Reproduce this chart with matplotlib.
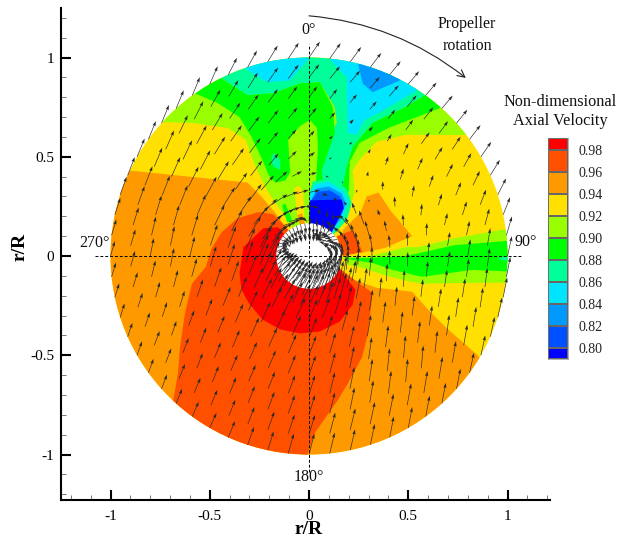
import numpy as np
import matplotlib
matplotlib.use("Agg")
import matplotlib.pyplot as plt
from matplotlib.patches import Polygon, Circle

plt.rcParams['font.family'] = ['Liberation Serif', 'DejaVu Serif']

# Contour levels and colours of the colour bar (lowest band first)
levels = [0.80, 0.82, 0.84, 0.86, 0.88, 0.90, 0.92, 0.94, 0.96, 0.98]
level_labels = ['0.80', '0.82', '0.84', '0.86', '0.88', '0.90', '0.92', '0.94', '0.96', '0.98']
band_colors = ['#0000FF', '#0050FF', '#0099FF', '#00E5FF', '#00FF99', '#00FF00',
               '#99FF00', '#FFE000', '#FF9900', '#FF5000', '#FF0000']
bar_range = (0.79, 0.991)

# Contour regions: outlines in r/R, painted in order; value = band the region belongs to
base_band = 0.93
orange_main = [(-0.90,0.43),(-0.31,0.37),(-0.24,0.30),(-0.18,0.23),(-0.12,0.15),(0,0),(0.16,-0.08),(0.23,-0.12),
               (0.34,-0.16),(0.52,-0.18),(0.60,-0.27),(0.69,-0.36),(0.77,-0.43),(0.86,-0.51),(1.2,-1.2),(-1.2,-1.2),(-1.2,0.43)]
orange_patch = [(0.29,0.30),(0.35,0.32),(0.41,0.23),(0.52,0.10),(0.38,0.04),(0.26,0.015),(0.17,0.10),(0.17,0.13),(0.26,0.22)]
redorange_patch = [(0.14,0.10),(0.22,0.13),(0.27,0.02),(0.17,0.0)]
redorange_main = [(-0.24,0.22),(-0.26,0.22),(-0.36,0.19),(-0.44,0.12),(-0.49,0.04),(-0.52,-0.055),(-0.59,-0.14),(-0.625,-0.29),
                  (-0.65,-0.46),(-0.66,-0.59),(-0.685,-0.735),(-0.8,-1.2),(-0.01,-1.2),(-0.005,-0.99),(0.03,-0.89),(0.146,-0.725),
                  (0.197,-0.64),(0.267,-0.51),(0.297,-0.39),(0.32,-0.185),(0.24,-0.13),(0.14,-0.05),(0,0),(-0.12,0.15),(-0.18,0.21)]
red_core = [(-0.35,-0.085),(-0.33,0.045),(-0.23,0.14),(-0.155,0.145),(-0.13,0.115),(0,0),(0.155,-0.07),(0.235,-0.17),(0.22,-0.245),
            (0.155,-0.33),(0.055,-0.38),(-0.045,-0.39),(-0.145,-0.37),(-0.235,-0.32),(-0.305,-0.235),(-0.34,-0.17)]
lime_top = [(-0.735,0.675),(-0.585,0.67),(-0.41,0.645),(-0.32,0.585),(-0.27,0.45),(-0.205,0.32),(-0.135,0.22),(-0.095,0.155),(0,0.08),
            (0.145,0.13),(0.195,0.22),(0.23,0.32),(0.22,0.43),(0.255,0.485),(0.34,0.575),(0.485,0.61),(0.795,0.61),(1.0,0.61),(1,1.2),(-1,1.2),(-0.9,0.675)]
lime_band = [(1.05,0.135),(0.99,0.135),(0.735,0.09),(0.55,0.045),(0.49,0.045),(0.29,-0.005),(0.17,-0.005),(0.195,-0.045),(0.255,-0.055),
             (0.375,-0.095),(0.49,-0.125),(0.57,-0.14),(0.82,-0.135),(1.05,-0.135)]
green_band = [(1.05,0.08),(0.735,0.055),(0.49,0.0),(0.29,-0.01),(0.19,-0.01),(0.215,-0.02),(0.32,-0.035),(0.42,-0.07),(0.57,-0.105),(0.82,-0.07),(1.05,-0.08)]
teal_tip = [(0.95,-0.015),(1.05,0.02),(1.05,-0.035)]
teal_top = [(-0.55,1.04),(-0.45,0.90),(-0.31,0.81),(-0.18,0.82),(-0.045,0.87),(0.055,0.875),(0.13,0.75),(0.14,0.675),(0.08,0.535),(0.055,0.38),
            (0.07,0.33),(0.18,0.33),(0.19,0.45),(0.22,0.55),(0.32,0.67),(0.485,0.75),(0.585,0.81),(0.7,0.9),(0.6,1.2),(-0.6,1.2)]
green_left = [(-0.575,0.82),(-0.46,0.77),(-0.35,0.70),(-0.29,0.60),(-0.235,0.485),(-0.205,0.41),(-0.17,0.37),(-0.12,0.38),(-0.095,0.42),(-0.105,0.585),
              (-0.045,0.655),(0.005,0.685),(0.04,0.645),(0.045,0.55),(0.04,0.45),(0.03,0.30),(0.05,0.33),(0.07,0.38),(0.065,0.435),(0.13,0.62),(0.12,0.75),
              (0.055,0.875),(-0.045,0.87),(-0.18,0.82),(-0.31,0.81),(-0.45,0.90)]
green_right = [(0.66,0.745),(0.40,0.645),(0.255,0.57),(0.205,0.475),(0.2,0.33),(0.165,0.205),(0.13,0.17),(0.155,0.28),(0.165,0.33),(0.19,0.45),
               (0.22,0.55),(0.32,0.67),(0.485,0.75),(0.585,0.81),(0.7,0.85)]
cyan_left = [(-0.33,0.95),(-0.21,0.875),(-0.095,0.885),(-0.005,0.99),(-0.005,1.1),(-0.33,1.1)]
cyan_right = [(0.105,0.99),(0.19,0.90),(0.195,0.62),(0.24,0.61),(0.28,0.685),(0.36,0.725),(0.545,0.835),(0.6,1.1),(0.105,1.1)]
azure_top = [(0.24,1.0),(0.27,0.87),(0.32,0.825),(0.46,0.885),(0.5,1.1),(0.24,1.1)]
teal_spot = [(-0.18,0.52),(-0.145,0.485),(-0.145,0.435),(-0.18,0.45),(-0.19,0.485)]
yellow_finger = [(-0.075,0.34),(-0.055,0.355),(-0.03,0.33),(-0.025,0.215),(-0.015,0.155),(-0.045,0.155),(-0.06,0.215)]
orange_finger = [(-0.06,0.205),(-0.035,0.215),(-0.02,0.155),(-0.045,0.155)]
green_sliver = [(-0.135,0.255),(-0.12,0.265),(-0.085,0.18),(-0.11,0.17)]
wake_teal = [(0,0.315),(0.02,0.375),(0.10,0.39),(0.19,0.34),(0.215,0.265),(0.19,0.18),(0.12,0.105),(0,0.13)]
wake_cyan = [(0.005,0.31),(0.03,0.36),(0.10,0.375),(0.17,0.33),(0.2,0.275),(0.17,0.19),(0.115,0.115),(0.005,0.155)]
wake_azure = [(0.015,0.29),(0.04,0.34),(0.10,0.35),(0.165,0.315),(0.185,0.265),(0.155,0.18),(0.105,0.12),(0.01,0.155)]
wake_blue = [(0.01,0.28),(0.045,0.325),(0.105,0.33),(0.155,0.30),(0.175,0.255),(0.14,0.175),(0.105,0.13),(0.005,0.155)]
wake_core = [(0,0.155),(0.005,0.28),(0.165,0.285),(0.175,0.24),(0.115,0.12)]

regions = [(0.95, orange_main), (0.95, orange_patch), (0.97, redorange_patch), (0.97, redorange_main), (0.99, red_core),
           (0.91, lime_top), (0.91, lime_band), (0.89, green_band), (0.87, teal_tip), (0.87, teal_top), (0.89, green_left),
           (0.89, green_right), (0.85, cyan_left), (0.85, cyan_right), (0.83, azure_top), (0.87, teal_spot), (0.93, yellow_finger),
           (0.95, orange_finger), (0.89, green_sliver), (0.87, wake_teal), (0.85, wake_cyan), (0.83, wake_azure), (0.81, wake_blue), (0.79, wake_core)]

# Velocity vectors, thousandths of r/R, one list per ring, clockwise from 0 deg, evenly spaced
ring_radii = [1.0, 0.9, 0.8, 0.7, 0.6, 0.5, 0.41, 0.32, 0.25, 0.2, 0.165, 0.14, 0.115]
u10 = [55,55,55,55,55,55,55,55,55,55,52,48,42,35,28,22,20,20,22,22,22,22,20,20,20,20,20,22,24,25,27,28,30,32,34,34,32,30,28,26,25,24,22,22,22,22,24,28,32,36,38,38,38,38,38,40,44,47,50,53]
v10 = [80,78,75,72,68,65,65,65,68,72,75,78,82,88,95,100,100,100,100,100,100,100,102,104,105,105,105,105,105,105,105,100,95,90,82,76,75,74,72,70,70,70,70,70,72,75,80,85,90,92,92,92,92,92,92,90,85,84,82,80]
u09 = [52,52,50,48,48,48,48,46,42,38,34,30,22,15,12,12,14,16,18,18,18,18,20,22,24,26,28,30,32,33,33,33,33,32,30,28,27,25,24,23,22,24,28,34,38,40,42,44,46,48,48,50,52,52]
v09 = [66,62,58,56,56,58,60,62,64,68,72,76,82,88,92,96,98,100,104,108,110,110,110,110,110,108,105,100,95,92,85,80,78,76,74,72,72,72,72,74,78,82,88,94,96,96,95,92,90,86,82,78,74,70]
u08 = [42,38,35,35,35,38,42,38,32,27,22,16,13,12,14,14,14,12,10,10,14,18,22,26,30,33,33,33,33,32,30,28,25,24,22,20,18,22,30,38,44,46,50,52,54,52,50,46]
v08 = [55,48,42,40,45,52,58,62,64,66,68,72,84,90,94,98,104,110,114,116,114,112,110,106,100,92,88,84,82,80,76,74,72,74,76,82,90,94,98,98,98,96,92,86,80,74,68,62]
u07 = [38,28,20,18,22,25,25,20,18,15,12,12,13,14,14,12,10,12,16,22,26,30,34,35,35,34,32,30,28,25,22,18,20,28,40,50,50,54,56,54,52,46]
v07 = [46,32,20,22,36,56,58,58,58,60,68,76,86,92,100,108,112,114,112,110,106,100,92,86,82,80,78,76,76,80,85,92,98,100,100,100,96,88,80,72,66,56]
u06 = [28,16,14,10,14,17,10,5,3,5,8,10,12,12,14,16,22,28,34,36,38,38,36,34,32,30,26,24,32,44,54,56,58,56,50,40]
v06 = [32,14,10,20,42,55,56,58,62,70,78,88,98,106,110,110,108,104,98,92,88,86,86,84,84,88,92,98,104,104,100,92,84,74,62,46]
u05 = [30,12,5,4,0,-2,-3,-3,0,5,10,14,18,24,30,36,40,42,42,40,38,34,30,36,50,60,60,58,50,42]
v05 = [24,8,2,22,42,50,56,64,72,84,96,106,108,106,102,98,94,94,94,94,94,98,102,106,104,96,86,76,60,40]
u041 = [40,15,5,-2,-8,-10,-10,-6,-2,4,10,16,22,28,34,40,44,46,46,46,42,36,34,40,54,64,66,64,58,50]
v041 = [10,-3,-10,-14,10,30,52,64,72,88,98,104,106,104,102,100,100,100,100,100,100,102,104,106,102,96,88,74,52,26]
u032 = [55,30,8,-15,-22,-25,-22,-12,-2,8,14,20,26,32,38,42,48,52,52,52,48,40,36,46,62,72,78,80,75,65]
v032 = [12,-8,-20,15,55,70,78,78,80,92,100,104,106,104,102,102,102,102,102,100,102,104,108,106,100,90,74,52,32,20]
u025 = [50,15,8,-5,-30,-40,-35,-25,-12,-3,5,12,18,22,28,34,38,42,46,50,54,56,56,54,50,44,42,46,58,70,80,85,85,80,70,60]
v025 = [-5,-40,-45,-40,10,50,70,75,78,85,90,96,102,104,106,106,104,104,104,104,104,102,102,102,104,106,108,108,104,96,82,64,44,28,15,5]
u020 = [10,5,5,0,-45,-55,-50,-35,-20,-8,0,8,15,20,26,32,38,42,46,50,54,58,60,60,55,50,48,52,64,78,90,90,85,75,50,25]
v020 = [-40,-50,-55,-55,20,30,45,60,75,85,90,95,100,104,106,106,106,106,106,106,104,102,100,100,102,104,108,106,100,88,66,45,30,20,0,-25]
u0165 = [5,0,-5,-10,-15,-30,-45,-50,-55,-55,-45,-30,-15,0,10,18,22,28,32,36,40,42,45,48,50,52,55,58,62,65,68,70,72,74,72,65,60,55,50,45,40,35,30,25,20,15,10,8]
v0165 = [-50,-55,-50,-55,-50,-40,-25,-15,-5,10,30,50,70,85,90,95,98,100,100,100,100,100,100,100,100,100,98,96,92,88,84,80,76,70,60,50,40,30,15,0,-15,-30,-40,-45,-50,-50,-55,-50]
u014 = [5,0,-5,-20,-50,-80,-90,-85,-60,-35,-20,-5,8,18,25,30,35,40,42,45,48,50,52,55,58,62,65,65,60,50,40,30,22,15,10,8,8,5,5,5]
v014 = [-65,-65,-60,-50,-20,15,25,25,20,40,60,80,90,95,98,100,100,100,100,100,100,100,98,95,90,85,80,75,60,40,20,5,-10,-25,-35,-45,-55,-60,-65,-65]
u0115 = [4,2,-10,-35,-55,-50,-40,-25,-10,5,15,22,28,34,38,40,42,45,48,50,45,35,25,15,10,5,5,5,5,5]
v0115 = [-30,-30,-25,-5,12,15,25,35,50,65,75,80,85,85,85,85,85,80,75,65,50,30,15,5,-5,-15,-20,-25,-28,-30]
ring_u = [u10, u09, u08, u07, u06, u05, u041, u032, u025, u020, u0165, u014, u0115]
ring_v = [v10, v09, v08, v07, v06, v05, v041, v032, v025, v020, v0165, v014, v0115]

# Annotations
major_ticks = [-1, -0.5, 0, 0.5, 1]
major_labels = ['-1', '-0.5', '0', '0.5', '1']
minor_ticks = [-1.2,-1.1,-0.9,-0.8,-0.7,-0.6,-0.4,-0.3,-0.2,-0.1,0.1,0.2,0.3,0.4,0.6,0.7,0.8,0.9,1.1,1.2]
azimuth_labels = [('0°', 0, 1.14), ('90°', 1.09, 0.07), ('180°', 0, -1.115), ('270°', -1.083, 0.065)]

W, H = 619, 540
fig = plt.figure(figsize=(W/100, H/100), dpi=100)
ax = fig.add_axes([61/W, 1-500/H, (550-61)/W, (500-8)/H])
ax.set_xlim(-1.2494, 1.2141)
ax.set_ylim(-1.2292, 1.2494)


def band_color(value):
    return band_colors[int(np.searchsorted(levels, value))]


disc = Circle((0, 0), 1.0, transform=ax.transData, facecolor=band_color(base_band), edgecolor='none', zorder=1)
ax.add_patch(disc)
for value, outline in regions:
    p = Polygon(outline, closed=True, facecolor=band_color(value), edgecolor='none', zorder=2)
    ax.add_patch(p)
    p.set_clip_path(disc)

ax.add_patch(Circle((0, 0), 0.165, facecolor='white', edgecolor='none', zorder=3))

# Arrows
X, Y, U, V = [], [], [], []
for r, us, vs in zip(ring_radii, ring_u, ring_v):
    th = np.deg2rad(np.arange(len(us)) * 360.0 / len(us))
    X.extend(r * np.sin(th)); Y.extend(r * np.cos(th))
    U.extend(np.array(us) / 1000.0); V.extend(np.array(vs) / 1000.0)
ax.quiver(X, Y, U, V, angles='xy', scale_units='xy', scale=1, units='dots', width=0.65,
          headwidth=5, headlength=8, headaxislength=7, minlength=0.2, pivot='tail',
          color='#2a2a2a', zorder=4)

# Cross-hair and azimuth labels
ax.plot([-1.08, 1.07], [0, 0], color='black', lw=0.7, ls=(0, (3, 2)), zorder=5)
ax.plot([0, 0], [-1.09, 1.07], color='black', lw=0.7, ls=(0, (3, 2)), zorder=5)
for txt, x, y in azimuth_labels:
    ax.text(x, y, txt, ha='center', va='center', fontsize=11.5, color='#111111')

# Rotation arrow
ax.annotate('', xy=(0.79, 0.897), xytext=(0.0, 1.21),
            arrowprops=dict(arrowstyle='->', lw=0.8, color='#222222', shrinkA=0, shrinkB=0,
                            connectionstyle='arc3,rad=-0.15', mutation_scale=13))
fig.text(467/W, 1-35/H, 'Propeller\nrotation', ha='center', va='center', fontsize=11.5, linespacing=1.45, color='#111111')

# Axes styling
for side in ('top', 'right'):
    ax.spines[side].set_visible(False)
for side in ('left', 'bottom'):
    ax.spines[side].set_linewidth(1.5)
ax.set_xticks(major_ticks, major_labels)
ax.set_yticks(major_ticks, major_labels)
ax.set_xticks(minor_ticks, minor=True)
ax.set_yticks(minor_ticks, minor=True)
ax.tick_params(which='major', direction='in', length=7.5, width=1.5, labelsize=11, colors='black')
ax.tick_params(axis='x', which='major', pad=7)
ax.tick_params(axis='y', which='major', pad=5)
ax.tick_params(which='minor', direction='in', length=3.6, width=0.7, color='#777777')
fig.text(309/W, 1-530/H, 'r/R', ha='center', va='center', fontsize=14, fontweight='bold')
fig.text(20/W, 1-247/H, 'r/R', ha='center', va='center', rotation=90, fontsize=14, fontweight='bold')

# Colour bar
cax = fig.add_axes([548/W, 1-359/H, 20/W, (359-138)/H])
edges = [bar_range[0]] + levels + [bar_range[1]]
cax.pcolormesh([0, 1], edges, np.arange(len(band_colors)).reshape(-1, 1),
               cmap=matplotlib.colors.ListedColormap(band_colors), edgecolors='#666666', linewidth=0.2)
cax.set_ylim(*bar_range)
cax.set_xticks([])
cax.yaxis.tick_right()
cax.set_yticks(levels, level_labels)
cax.tick_params(axis='y', length=0, pad=7.5, labelsize=10, labelcolor='#222222')
for s in cax.spines.values():
    s.set_linewidth(0.4); s.set_color('#777777')
fig.text(560/W, 1-111.5/H, 'Non-dimensional\nAxial Velocity', ha='center', va='center', fontsize=11.7, linespacing=1.2, color='#111111')

fig.savefig('out.png', dpi=100)
